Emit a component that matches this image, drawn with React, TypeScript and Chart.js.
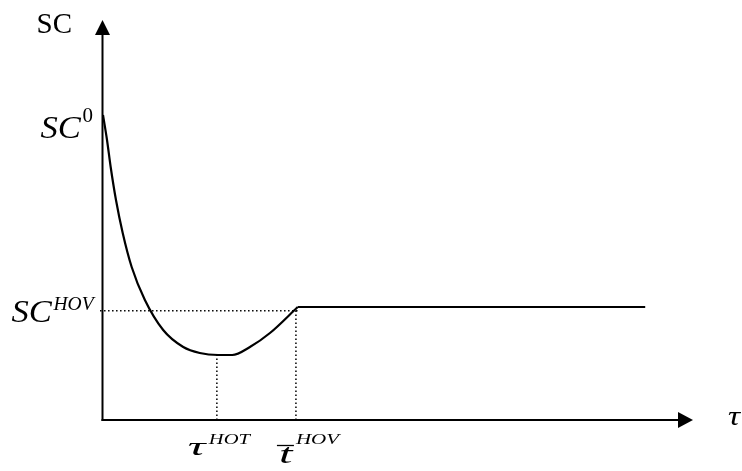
import React, { useEffect, useRef } from "react";
import { Chart, registerables } from "chart.js";

Chart.register(...registerables);

// Curve SC(τ): falls from SC^0, reaches a minimum at τ^HOT, rises to SC^HOV at t̄^HOV
const curveX = [0, 0.68, 1.3, 2.2, 3.34, 4.86, 7.1, 10.2, 13.6, 16.4, 19.5, 21.9, 24.9, 28.3, 33];
const curveY = [76.25, 70, 63.25, 55, 46.75, 38.25, 30, 22.5, 18.25, 16.75, 16.25, 16.25, 18.25, 21.75, 28.25];
// flat part after t̄^HOV
const flatX = [33, 91.9];
const flatY = [28.25, 28.25];
// dotted guide lines
const hovGuideX = [-0.5, 33];
const hovGuideY = [27.3, 27.3];
const tauHotGuideX = [19.3, 19.3];
const tauHotGuideY = [0, 16.25];
const tHovGuideX = [32.7, 32.7];
const tHovGuideY = [0, 28];

const TAU_HOT = 19.3;
const T_HOV = 32.7;
const SC0 = 76.25;
const SC_HOV = 27.3;

const toPts = (xs: number[], ys: number[]) => xs.map((x, i) => ({ x, y: ys[i] }));

const SERIF = "'Liberation Serif', 'Times New Roman', serif";

function txt(ctx: CanvasRenderingContext2D, s: string, x: number, y: number, font: string, sx = 1) {
  ctx.save();
  ctx.translate(x, y);
  ctx.scale(sx, 1);
  ctx.font = font;
  ctx.fillText(s, 0, 0);
  ctx.restore();
}

const decorPlugin = {
  id: "decor",
  afterDraw(chart: any) {
    const { ctx, chartArea } = chart;
    const xs = chart.scales.x;
    const ys = chart.scales.y;
    const x0 = xs.getPixelForValue(0) - 0.5;
    const y0 = ys.getPixelForValue(0);
    ctx.save();
    ctx.strokeStyle = "#000";
    ctx.fillStyle = "#000";
    ctx.lineWidth = 2;
    // y axis
    ctx.beginPath();
    ctx.moveTo(x0, y0 + 1);
    ctx.lineTo(x0, chartArea.top + 12);
    ctx.stroke();
    ctx.beginPath();
    ctx.moveTo(x0, chartArea.top);
    ctx.lineTo(x0 - 7.5, chartArea.top + 15);
    ctx.lineTo(x0 + 7.5, chartArea.top + 15);
    ctx.closePath();
    ctx.fill();
    // x axis
    ctx.beginPath();
    ctx.moveTo(x0 - 1, y0);
    ctx.lineTo(chartArea.right - 12, y0);
    ctx.stroke();
    ctx.beginPath();
    ctx.moveTo(chartArea.right, y0);
    ctx.lineTo(chartArea.right - 15, y0 - 8);
    ctx.lineTo(chartArea.right - 15, y0 + 8);
    ctx.closePath();
    ctx.fill();

    ctx.textBaseline = "alphabetic";
    ctx.textAlign = "left";
    // SC axis title
    txt(ctx, "SC", x0 - 66, chartArea.top + 13, `29px ${SERIF}`);

    // SC^0
    const ySC0 = ys.getPixelForValue(SC0);
    txt(ctx, "SC", x0 - 62, ySC0 + 23, `italic 32px ${SERIF}`, 1.08);
    txt(ctx, "0", x0 - 20, ySC0 + 7, `21px ${SERIF}`);

    // SC^HOV
    const yHov = ys.getPixelForValue(SC_HOV);
    txt(ctx, "SC", x0 - 91, yHov + 11, `italic 32px ${SERIF}`, 1.08);
    txt(ctx, "HOV", x0 - 49, yHov - 1, `italic 19.5px ${SERIF}`);

    // τ axis title
    txt(ctx, "τ", chartArea.right + 35, y0 + 5, `italic 28px ${SERIF}`, 1.2);

    // τ^HOT
    const xHot = xs.getPixelForValue(TAU_HOT);
    txt(ctx, "τ", xHot - 29, y0 + 35, `italic 26px ${SERIF}`, 1.9);
    txt(ctx, "HOT", xHot - 8, y0 + 24, `italic 15px ${SERIF}`, 1.37);

    // t̄^HOV
    const xTh = xs.getPixelForValue(T_HOV);
    txt(ctx, "t", xTh - 17, y0 + 43, `italic 27px ${SERIF}`, 1.8);
    ctx.lineWidth = 1.3;
    ctx.beginPath();
    ctx.moveTo(xTh - 19, y0 + 25.5);
    ctx.lineTo(xTh - 2, y0 + 25.5);
    ctx.stroke();
    txt(ctx, "HOV", xTh, y0 + 24, `italic 15px ${SERIF}`, 1.4);
    ctx.restore();
  },
};

export default function App() {
  const ref = useRef<HTMLCanvasElement | null>(null);
  useEffect(() => {
    if (!ref.current) return;
    const dotted = {
      borderColor: "#000",
      borderWidth: 1.5,
      borderDash: [1.5, 2.5],
      pointRadius: 0,
      fill: false,
      clip: false as any,
    };
    const chart = new Chart(ref.current, {
      type: "line",
      data: {
        datasets: [
          { ...dotted, data: toPts(hovGuideX, hovGuideY) },
          { ...dotted, data: toPts(tauHotGuideX, tauHotGuideY) },
          { ...dotted, data: toPts(tHovGuideX, tHovGuideY) },
          {
            data: toPts(curveX, curveY),
            borderColor: "#000",
            borderWidth: 2.2,
            pointRadius: 0,
            cubicInterpolationMode: "monotone",
            fill: false,
            clip: false as any,
          },
          {
            data: toPts(flatX, flatY),
            borderColor: "#000",
            borderWidth: 2.2,
            pointRadius: 0,
            fill: false,
            clip: false as any,
          },
        ],
      },
      options: {
        responsive: false,
        animation: false,
        events: [],
        layout: { padding: { left: 103, right: 49, top: 20, bottom: 51 } },
        plugins: { legend: { display: false }, tooltip: { enabled: false } },
        scales: {
          x: { type: "linear", min: 0, max: 100, display: false },
          y: { type: "linear", min: 0, max: 100, display: false },
        },
      },
      plugins: [decorPlugin],
    });
    return () => chart.destroy();
  }, []);
  return (
    <div style={{ position: "fixed", left: 0, top: 0, width: 742, height: 471, background: "#fff" }}>
      <canvas ref={ref} width={742} height={471} style={{ display: "block" }} />
    </div>
  );
}
